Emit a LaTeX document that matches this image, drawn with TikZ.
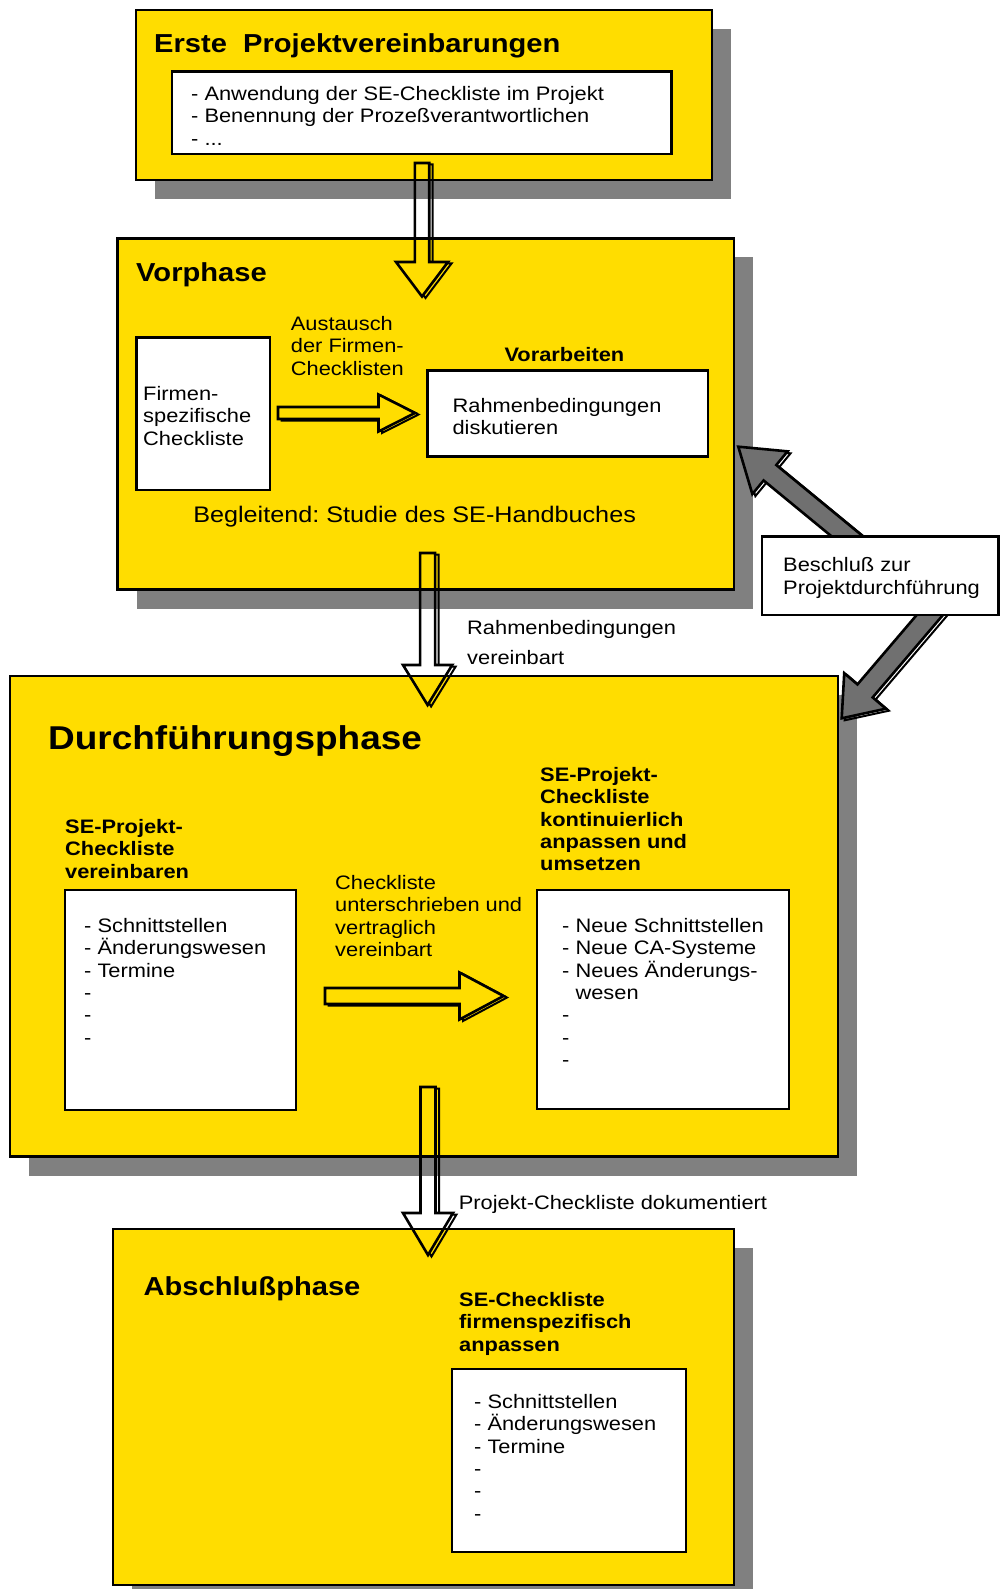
\documentclass[tikz,border=0pt]{standalone}
\usepackage{fontspec}
\setmainfont{Liberation Sans}[FakeStretch=1.12]
\usetikzlibrary{calc,shadows}
\frenchspacing

\definecolor{phaseyellow}{RGB}{255,221,0}
\definecolor{shadowgray}{RGB}{128,128,128}
\definecolor{arrowgray}{RGB}{112,112,112}

\newcommand{\normtxt}{\fontsize{19.5}{22.4}\selectfont}
\newcommand{\headtxt}{\fontsize{19.5}{22.4}\selectfont\bfseries}
\newcommand{\phasetxt}{\fontsize{26}{30}\selectfont\bfseries}
\newcommand{\bigphasetxt}{\fontsize{33}{38}\selectfont\bfseries}
\newcommand{\widetxt}{\fontsize{22.5}{26}\selectfont}

\tikzstyle{phase} = [rectangle, draw, line width=2.8pt, fill=phaseyellow,
    inner sep=0pt, outer sep=0pt, anchor=north west,
    drop shadow={shadow xshift=19pt, shadow yshift=-19pt, fill=shadowgray, opacity=1}]
\tikzstyle{listbox} = [rectangle, draw, line width=2.8pt, fill=white,
    inner sep=0pt, outer sep=0pt, anchor=north west]
\tikzstyle{txt} = [anchor=north west, inner sep=0pt, align=left, font=\normtxt]
\tikzstyle{head} = [txt, font=\headtxt]
\tikzstyle{arrowline} = [draw=black, line width=2.6pt, line join=miter]

% corner points of a block arrow: from, to, shaft half width, head half width, head length
\newcommand{\setarrow}[5]{%
  \coordinate (ha-t) at (#2);
  \coordinate (ha-b) at ($(#2)!#5!(#1)$);
  \coordinate (ha-1) at ($(#1)!#3!90:(#2)$);
  \coordinate (ha-2) at ($(ha-b)!#3!90:(#2)$);
  \coordinate (ha-3) at ($(ha-b)!#4!90:(#2)$);
  \coordinate (ha-5) at ($(ha-b)!#4!-90:(#2)$);
  \coordinate (ha-6) at ($(ha-b)!#3!-90:(#2)$);
  \coordinate (ha-7) at ($(#1)!#3!-90:(#2)$);
}
\newcommand{\hollowarrow}[5]{%
  \setarrow{#1}{#2}{#3}{#4}{#5}
  \begin{scope}[even odd rule]
    \clip (0,0) rectangle (1000,1589)
      (ha-1) -- (ha-2) -- (ha-3) -- (ha-t) -- (ha-5) -- (ha-6) -- (ha-7) -- cycle;
    \draw[arrowline, line width=2pt, transform canvas={shift={(3.5pt,-1.5pt)}}]
      (ha-1) -- (ha-2) -- (ha-3) -- (ha-t) -- (ha-5) -- (ha-6) -- (ha-7) -- cycle;
  \end{scope}
  \draw[arrowline]
    (ha-1) -- (ha-2) -- (ha-3) -- (ha-t) -- (ha-5) -- (ha-6) -- (ha-7) -- cycle;
}
\newcommand{\grayarrow}[5]{%
  \setarrow{#1}{#2}{#3}{#4}{#5}
  \draw[arrowline, line width=2pt, transform canvas={shift={(3pt,-2pt)}}]
    (ha-1) -- (ha-2) -- (ha-3) -- (ha-t) -- (ha-5) -- (ha-6) -- (ha-7) -- cycle;
  \draw[arrowline, fill=arrowgray]
    (ha-1) -- (ha-2) -- (ha-3) -- (ha-t) -- (ha-5) -- (ha-6) -- (ha-7) -- cycle;
}

\begin{document}
\begin{tikzpicture}[x=1pt, y=-1pt]
  \useasboundingbox (0,0) rectangle (1000,1589);
  % Place boxes
  \node [phase, minimum width=576pt, minimum height=170pt] (erste) at (136,10) {};
  \node [listbox, minimum width=499.5pt, minimum height=82.3pt] (ersteliste) at (172,71.7) {};
  \node [phase, minimum width=616.5pt, minimum height=351pt] (vorphase) at (117.5,238.5) {};
  \node [listbox, minimum width=133.5pt, minimum height=152.3pt] (firmen) at (136.5,337.7) {};
  \node [listbox, minimum width=280.5pt, minimum height=86pt] (vorarbeiten) at (427.5,370.7) {};
  \node [phase, minimum width=828pt, minimum height=480.5pt] (durchf) at (10,676) {};
  \node [listbox, minimum width=231pt, minimum height=220pt] (vereinbaren) at (65,890) {};
  \node [listbox, minimum width=252pt, minimum height=219pt] (umsetzen) at (537,890) {};
  \node [phase, minimum width=621pt, minimum height=356pt] (abschluss) at (113,1229) {};
  \node [listbox, minimum width=234pt, minimum height=183pt] (anpassen) at (452,1369) {};

  % Place texts
  \node [txt, font=\phasetxt] (ersteTitel) at (154,33) {Erste~\ Projektvereinbarungen};
  \node [txt] (ersteText) at (191,86)
  {- Anwendung der SE-Checkliste im Projekt\\- Benennung der Prozeßverantwortlichen\\- ...};
  \node [txt, font=\phasetxt] (vorTitel) at (136,262) {Vorphase};
  \node [txt] (firmenText) at (143,386) {Firmen-\\spezifische\\Checkliste};
  \node [txt] (austausch) at (290.7,316) {Austausch\\der Firmen-\\Checklisten};
  \node [head, anchor=north] (vorarbeitenTitel) at (564.4,346.7) {Vorarbeiten};
  \node [txt] (vorarbeitenText) at (452.4,397.7) {Rahmenbedingungen\\diskutieren};
  \node [txt, anchor=north, font=\widetxt] (begleitend) at (414.6,506)
  {Begleitend: Studie des SE-Handbuches};
  \node [txt, font={\fontsize{19.5}{30}\selectfont}] (vereinbart) at (467,620)
  {Rahmenbedingungen\\vereinbart};
  \node [txt, font=\bigphasetxt] (durchfTitel) at (48,725) {Durchführungsphase};
  \node [head] (vereinbarenTitel) at (65,819) {SE-Projekt-\\Checkliste\\vereinbaren};
  \node [txt] (vereinbarenText) at (84,918)
  {- Schnittstellen\\- Änderungswesen\\- Termine\\-\\-\\-};
  \node [txt] (unterschrieben) at (335,875)
  {Checkliste\\unterschrieben und\\vertraglich\\vereinbart};
  \node [head] (umsetzenTitel) at (540,767)
  {SE-Projekt-\\Checkliste\\kontinuierlich\\anpassen und\\umsetzen};
  \node [txt] (umsetzenText) at (562,918)
  {- Neue Schnittstellen\\- Neue CA-Systeme\\- Neues Änderungs-\\\phantom{-\ }wesen\\-\\-\\-};
  \node [txt] (dokumentiert) at (458.6,1195) {Projekt-Checkliste dokumentiert};
  \node [txt, font=\phasetxt] (abschlussTitel) at (143.4,1276) {Abschlußphase};
  \node [head] (anpassenTitel) at (459,1292) {SE-Checkliste\\firmenspezifisch\\anpassen};
  \node [txt] (anpassenText) at (474,1394)
  {- Schnittstellen\\- Änderungswesen\\- Termine\\-\\-\\-};

  % Decision arrows
  \coordinate (beschlussOben) at (870,555);
  \coordinate (beschlussUnten) at (952,589);
  \coordinate (vorRechts) at (738.3,446.7);
  \coordinate (durchfEcke) at (841.7,718.3);
  \grayarrow{beschlussOben}{vorRechts}{10pt}{27.7pt}{41pt}
  \grayarrow{beschlussUnten}{durchfEcke}{10pt}{27.4pt}{36pt}
  \node [listbox, line width=2.5pt, minimum width=236.5pt, minimum height=78.3pt] (beschluss)
  at (762,536.7) {};
  \node [txt, font={\fontsize{19.5}{23}\selectfont}] (beschlussText) at (783,557)
  {Beschluß zur\\Projektdurchführung};

  % Draw edges
  \coordinate (a1s) at (422,163);     \coordinate (a1e) at (422,296.5);
  \coordinate (a2s) at (427.6,553);   \coordinate (a2e) at (427.6,705);
  \coordinate (a3s) at (428,1087);    \coordinate (a3e) at (428,1255);
  \coordinate (avs) at (278,413);     \coordinate (ave) at (415,413);
  \coordinate (ads) at (325,996);     \coordinate (ade) at (503.5,996);
  \hollowarrow{a1s}{a1e}{7.2pt}{26pt}{34.5pt}
  \hollowarrow{avs}{ave}{6pt}{18.5pt}{36.5pt}
  \hollowarrow{a2s}{a2e}{7.5pt}{24.6pt}{40pt}
  \hollowarrow{ads}{ade}{8pt}{23.5pt}{44pt}
  \hollowarrow{a3s}{a3e}{7.5pt}{25pt}{42pt}
\end{tikzpicture}
\end{document}
